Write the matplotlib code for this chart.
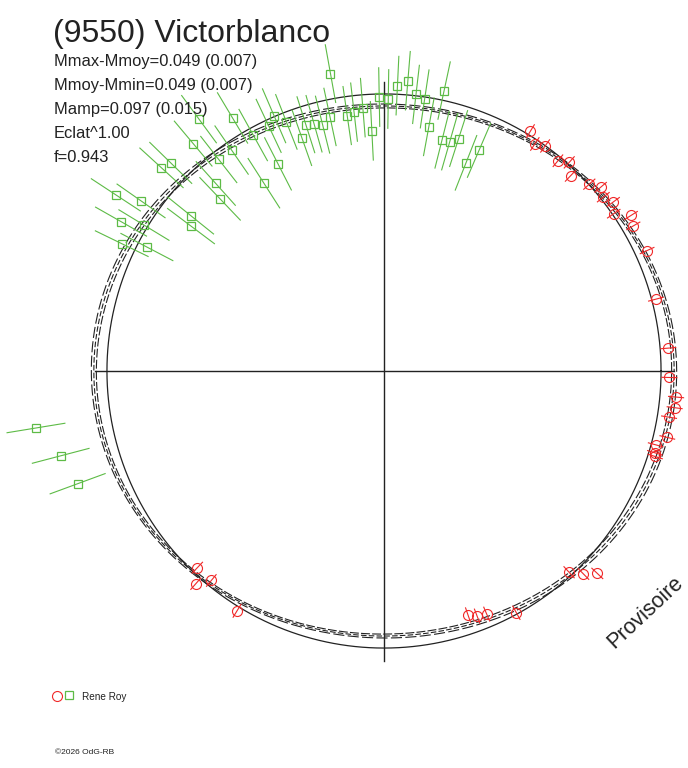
import numpy as np
import matplotlib
matplotlib.use("Agg")
import matplotlib.pyplot as plt

plt.rcParams['font.family'] = ['Liberation Sans', 'DejaVu Sans']

# ====================== DATA ======================
title = "(9550) Victorblanco"
info_lines = ["Mmax-Mmoy=0.049 (0.007)",
              "Mmoy-Mmin=0.049 (0.007)",
              "Mamp=0.097 (0.015)",
              "Eclat^1.00",
              "f=0.943"]
observer = "Rene Roy"
stamp = "\u00a92026 OdG-RB"
status = "Provisoire"

# session 1 (red circles): polar angle (deg) and radius
red_phase = [58.6, 56.4, 54.4, 50.4, 48.4, 46.3, 42.3, 40.3, 38.4, 36.4,
             34.4, 32.2, 30.2, 24.6, 14.8, 4.6, 358.7, 354.9, 352.8, 350.8,
             346.8, 344.8, 343.2, 342.5, 312.6, 314.5, 316.5, 289.0, 290.8, 292.9,
             298.7, 226.5, 228.5, 230.5, 238.5]
red_r = [1.007, 0.977, 0.992, 0.978, 1.000, 0.968, 0.995, 1.018, 1.003, 1.021,
         0.998, 1.046, 1.034, 1.037, 1.008, 1.022, 1.023, 1.051, 1.050, 1.035,
         1.043, 1.009, 1.014, 1.019, 0.980, 1.020, 1.054, 0.925, 0.940, 0.946,
         0.988, 0.972, 1.018, 0.973, 1.008]
red_err = [0.027] * len(red_r)

# session 2 (green squares)
green_phase = [100.2, 91.0, 89.1, 87.3, 85.3, 83.4, 81.5, 77.9, 79.6, 75.9,
               74.0, 72.2, 68.5, 66.7, 92.9, 94.6, 96.6, 98.2, 102.0, 104.0,
               105.8, 107.6, 109.4, 111.4, 113.3, 115.2, 119.0, 120.9, 126.3, 130.0,
               135.7, 137.6, 128.0, 124.6, 117.1, 122.6, 131.9, 133.6, 141.2, 143.1,
               145.0, 146.7, 150.4, 148.7, 154.1, 152.4, 189.3, 194.7, 200.2]
green_r = [1.083, 0.982, 0.975, 1.024, 1.044, 0.998, 0.986, 1.028, 0.890, 0.855,
           0.855, 0.875, 0.802, 0.861, 0.862, 0.947, 0.934, 0.925, 0.931, 0.910,
           0.921, 0.926, 0.886, 0.959, 0.996, 0.971, 0.967, 1.057, 1.120, 1.064,
           1.068, 1.080, 0.962, 0.962, 0.834, 0.799, 0.903, 0.852, 0.889, 0.865,
           1.063, 1.150, 1.084, 1.007, 1.045, 0.959, 1.264, 1.198, 1.170]
green_err = [0.105] * len(green_r)

# fitted models: mean radius, cos(2t) and sin(2t) terms
fit_c0 = [0.987, 0.995, 1.003]
fit_a2 = [0.044, 0.045, 0.046]
fit_b2 = [0.002, 0.000, -0.002]
circle_r = 0.993

# ====================== STYLE ======================
W, H, DPI = 688, 768, 100
CX, CY, S = 384, 371, 279.0
RED = '#f02828'
GREEN = '#5dbb46'
INK = '#222222'

fig = plt.figure(figsize=(W / DPI, H / DPI), dpi=DPI)
ax = fig.add_axes([0, 0, 1, 1])
ax.set_xlim(-CX / S, (W - CX) / S)
ax.set_ylim(-(H - CY) / S, CY / S)
ax.axis('off')


def to_xy(phase_deg, r):
    t = np.deg2rad(np.asarray(phase_deg, dtype=float))
    r = np.asarray(r, dtype=float)
    return r * np.cos(t), r * np.sin(t)


# cross
ax.plot([-1.035, 1.04], [0, 0], color=INK, lw=1.0)
ax.plot([0, 0], [-1.04, 1.035], color=INK, lw=1.0)

# model curves
tt = np.linspace(0, 360, 721)
dash_styles = [(0, (8, 2)), (3, (5, 2)), (1, (10, 3))]
for c0, a2, b2, ls in zip(fit_c0, fit_a2, fit_b2, dash_styles):
    rad = c0 + a2 * np.cos(np.deg2rad(2 * tt)) + b2 * np.sin(np.deg2rad(2 * tt))
    x, y = to_xy(tt, rad)
    ax.plot(x, y, color=INK, lw=0.8, linestyle=ls)
x, y = to_xy(tt, np.full_like(tt, circle_r))
ax.plot(x, y, color=INK, lw=0.9)

# error bars (radial)
for ph, r, e in zip(green_phase, green_r, green_err):
    x, y = to_xy([ph, ph], [r - e, r + e])
    ax.plot(x, y, color=GREEN, lw=0.8)
for ph, r, e in zip(red_phase, red_r, red_err):
    x, y = to_xy([ph, ph], [r - e, r + e])
    ax.plot(x, y, color=RED, lw=0.8)

# points
gx, gy = to_xy(green_phase, green_r)
ax.plot(gx, gy, 's', mfc='none', mec=GREEN, ms=5.8, mew=0.9)
rx, ry = to_xy(red_phase, red_r)
ax.plot(rx, ry, 'o', mfc='none', mec=RED, ms=7.2, mew=0.8)

# ====================== TEXT ======================
def fx(px):
    return px / W


def fy(py):
    return 1 - py / H


fig.text(fx(53), fy(42), title, fontsize=23, color=INK, va='baseline')
for i, line in enumerate(info_lines):
    fig.text(fx(54), fy(66 + 24 * i), line, fontsize=11.9, color=INK, va='baseline')

# legend
fig.lines.append(plt.Line2D([fx(57)], [fy(696)], marker='o', mfc='none', mec=RED,
                            ms=7.2, mew=0.8, transform=fig.transFigure))
fig.lines.append(plt.Line2D([fx(69)], [fy(695)], marker='s', mfc='none', mec=GREEN,
                            ms=5.8, mew=0.9, transform=fig.transFigure))
fig.text(fx(82), fy(700), observer, fontsize=7.2, color=INK, va='baseline')
fig.text(fx(55), fy(754), stamp, fontsize=6, color=INK, va='baseline')

fig.text(fx(614), fy(649), status, fontsize=15.5, color=INK, rotation=43,
         ha='left', va='baseline', rotation_mode='anchor')

fig.savefig('out.png', dpi=DPI, facecolor='white')
